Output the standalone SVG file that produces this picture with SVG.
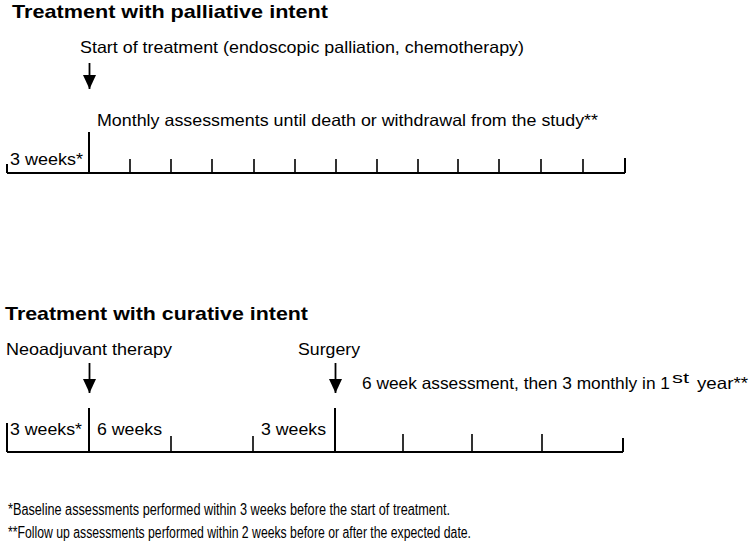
<svg xmlns="http://www.w3.org/2000/svg" width="752" height="551" viewBox="0 0 752 551">
<defs>
<style>
text{font-family:"Liberation Sans",Arial,sans-serif;fill:#000}
.t{font-size:19px;font-weight:bold}
.l{font-size:16.5px}
.f{font-size:16px}
.ax{stroke:#000;stroke-width:2;fill:none}
.tk{stroke:#000;stroke-width:1.6;fill:none}
.ar{stroke:#000;stroke-width:1.8;fill:none}
</style>
<marker id="ah" viewBox="0 0 14 13" refX="14" refY="6.5" markerWidth="14" markerHeight="13" markerUnits="userSpaceOnUse" orient="auto">
<path d="M0,0 L14,6.5 L0,13 Z" fill="#000"/>
</marker>
</defs>
<rect width="752" height="551" fill="#fff"/>

<g id="palliative">
<text class="t" x="12" y="18" textLength="316" lengthAdjust="spacingAndGlyphs">Treatment with palliative intent</text>
<text class="l" x="80" y="53" textLength="444" lengthAdjust="spacingAndGlyphs">Start of treatment (endoscopic palliation, chemotherapy)</text>
<text class="l" x="97" y="126" textLength="501" lengthAdjust="spacingAndGlyphs">Monthly assessments until death or withdrawal from the study**</text>
<text class="l" x="10" y="165" textLength="73" lengthAdjust="spacingAndGlyphs">3 weeks*</text>
</g>

<g id="curative">
<text class="t" x="5" y="320" textLength="303" lengthAdjust="spacingAndGlyphs">Treatment with curative intent</text>
<text class="l" x="6" y="355" textLength="166" lengthAdjust="spacingAndGlyphs">Neoadjuvant therapy</text>
<text class="l" x="298" y="355" textLength="62" lengthAdjust="spacingAndGlyphs">Surgery</text>
<text class="l" x="362" y="389" textLength="308" lengthAdjust="spacingAndGlyphs">6 week assessment, then 3 monthly in 1</text>
<text x="672" y="383" font-size="14" textLength="17" lengthAdjust="spacingAndGlyphs">st</text>
<text class="l" x="697" y="389" textLength="51" lengthAdjust="spacingAndGlyphs">year**</text>
<text class="l" x="10" y="435" textLength="72" lengthAdjust="spacingAndGlyphs">3 weeks*</text>
<text class="l" x="97" y="435" textLength="65" lengthAdjust="spacingAndGlyphs">6 weeks</text>
<text class="l" x="261" y="435" textLength="65" lengthAdjust="spacingAndGlyphs">3 weeks</text>
</g>

<g id="footnotes">
<text class="f" x="8" y="515" textLength="442" lengthAdjust="spacingAndGlyphs">*Baseline assessments performed within 3 weeks before the start of treatment.</text>
<text class="f" x="8" y="538" textLength="463" lengthAdjust="spacingAndGlyphs">**Follow up assessments performed within 2 weeks before or after the expected date.</text>
</g>

<g id="connectors">
<line class="ar" x1="89.5" y1="63" x2="89.5" y2="89" marker-end="url(#ah)"/>
<line class="ar" x1="89.5" y1="363" x2="89.5" y2="393" marker-end="url(#ah)"/>
<line class="ar" x1="335.5" y1="363" x2="335.5" y2="393" marker-end="url(#ah)"/>

<path class="ax" d="M7,173 H625 M7,164 V173 M625,158 V173 M89,132 V173"/>
<path class="tk" d="M130,159V173 M171,159V173 M212,159V173 M254,159V173 M295,159V173 M336,159V173 M377,159V173 M418,159V173 M458,159V173 M499,159V173 M541,159V173 M583,159V173"/>

<path class="ax" d="M7,452 H623 M7,423 V452 M623,438 V452 M89,408 V452 M335,408 V452"/>
<path class="tk" d="M171,436V452 M253,436V452 M403,434V452 M472,434V452 M542,434V452"/>
</g>
</svg>
